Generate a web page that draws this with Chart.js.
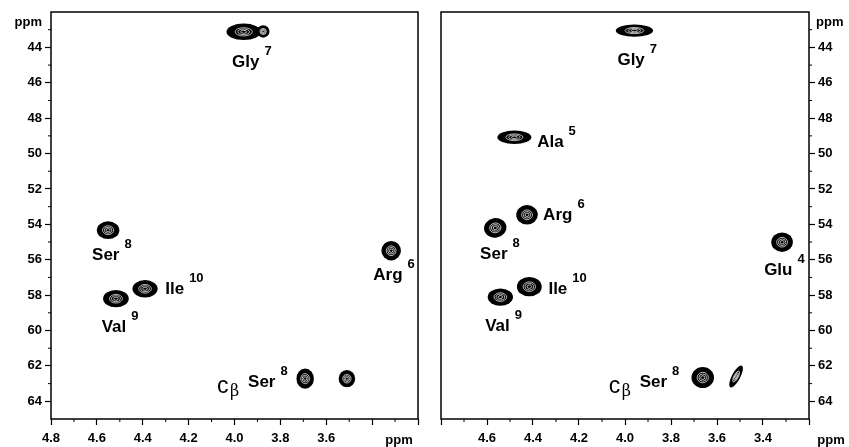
<!DOCTYPE html>
<html>
<head>
<meta charset="utf-8">
<script src="https://cdn.jsdelivr.net/npm/chart.js@4.4.0/dist/chart.umd.min.js"></script>
<style>
  body { margin: 0; background: #fff; }
  #wrap { position: relative; width: 849px; height: 447px; overflow: hidden; }
  canvas { position: absolute; top: 0; }
</style>
</head>
<body>
<div id="wrap">
  <canvas id="left" width="430" height="447" style="left:0;width:430px;height:447px"></canvas>
  <canvas id="right" width="419" height="447" style="left:430px;width:419px;height:447px"></canvas>
</div>
<script>
// axis ranges (ppm), both panels
var xMin = 3.2, xMax = 4.8;
var yMin = 42, yMax = 65;
var leftXTickLabels = ['4.8', '4.6', '4.4', '4.2', '4.0', '3.8', '3.6'];
var rightXTickLabels = ['4.6', '4.4', '4.2', '4.0', '3.8', '3.6', '3.4'];
var yTickLabels = ['44', '46', '48', '50', '52', '54', '56', '58', '60', '62', '64'];

// left panel cross peaks: 1H shift, 13C shift, contour width / height (ppm), tilt (deg)
var leftPeakX = [3.96, 3.875, 4.551, 3.317, 4.39, 4.517, 3.692, 3.51];
var leftPeakY = [43.12, 43.10, 54.33, 55.49, 57.64, 58.20, 62.72, 62.72];
var leftPeakW = [0.150, 0.055, 0.098, 0.085, 0.110, 0.112, 0.076, 0.072];
var leftPeakH = [0.93, 0.70, 1.00, 1.10, 0.98, 0.98, 1.15, 0.98];
var leftPeakRot = [0, 0, 0, 0, 0, 0, 0, 0];

// left panel assignments
var leftLabels = ['Gly', 'Ser', 'Arg', 'Ile', 'Val', 'Ser'];
var leftSups = ['7', '8', '6', '10', '9', '8'];
var leftLabelX = [4.011, 4.621, 3.395, 4.302, 4.579, 4.076];
var leftLabelY = [45.08, 56.03, 57.14, 57.96, 60.10, 63.17];
var leftCbeta = [false, false, false, false, false, true];

// right panel cross peaks
var rightPeakX = [3.959, 4.481, 4.426, 4.564, 3.317, 4.416, 4.542, 3.662, 3.517];
var rightPeakY = [43.05, 49.08, 53.46, 54.20, 55.01, 57.52, 58.11, 62.66, 62.60];
var rightPeakW = [0.162, 0.148, 0.094, 0.098, 0.094, 0.108, 0.110, 0.098, 0.036];
var rightPeakH = [0.70, 0.76, 1.10, 1.10, 1.10, 1.10, 0.98, 1.19, 1.38];
var rightPeakRot = [0, 0, 0, -10, 0, 0, 0, 0, 28];

// right panel assignments
var rightLabels = ['Gly', 'Ala', 'Arg', 'Ser', 'Glu', 'Ile', 'Val', 'Ser'];
var rightSups = ['7', '5', '6', '8', '4', '10', '9', '8'];
var rightLabelX = [4.033, 4.382, 4.356, 4.630, 3.395, 4.333, 4.608, 4.071];
var rightLabelY = [44.99, 49.61, 53.77, 55.98, 56.88, 57.96, 60.00, 63.17];
var rightCbeta = [false, false, false, false, false, false, false, true];

var FONT = "'Liberation Sans', Arial, sans-serif";

function drawPeak(ctx, cx, cy, rx, ry, rot) {
  ctx.save();
  ctx.translate(cx, cy);
  ctx.rotate(rot * Math.PI / 180);
  ctx.fillStyle = '#000';
  ctx.beginPath();
  ctx.ellipse(0, 0, rx, ry, 0, 0, 2 * Math.PI);
  ctx.fill();
  ctx.strokeStyle = '#fff';
  ctx.lineWidth = 0.7;
  [0.5, 0.34, 0.18].forEach(function (f) {
    ctx.beginPath();
    ctx.ellipse(0, 0, rx * f, ry * f, 0, 0, 2 * Math.PI);
    ctx.stroke();
  });
  ctx.restore();
}

function makePlugin(side, p) {
  return {
    id: 'nmr_' + side,
    afterDatasetsDraw: function (chart) {
      var ctx = chart.ctx, xs = chart.scales.x, ys = chart.scales.y, a = chart.chartArea;
      // peaks
      for (var i = 0; i < p.px.length; i++) {
        var cx = xs.getPixelForValue(p.px[i]), cy = ys.getPixelForValue(p.py[i]);
        var rx = Math.abs(xs.getPixelForValue(p.px[i] + p.pw[i] / 2) - cx);
        var ry = Math.abs(ys.getPixelForValue(p.py[i] + p.ph[i] / 2) - cy);
        drawPeak(ctx, cx, cy, rx, ry, p.rot[i]);
      }
      // assignment labels
      ctx.save();
      ctx.fillStyle = '#000';
      ctx.textBaseline = 'alphabetic';
      ctx.textAlign = 'left';
      for (var j = 0; j < p.labels.length; j++) {
        var lx = xs.getPixelForValue(p.lx[j]), ly = ys.getPixelForValue(p.ly[j]);
        if (p.cb[j]) {
          ctx.font = '23px ' + FONT;
          ctx.fillText('c', lx, ly + 6);
          ctx.font = '16px DejaVu Serif, serif';
          ctx.fillText('\u03B2', lx + 13, ly + 9);
          lx += 31;
        }
        ctx.font = 'bold 17px ' + FONT;
        ctx.fillText(p.labels[j], lx, ly);
        var w = ctx.measureText(p.labels[j]).width;
        ctx.font = 'bold 13px ' + FONT;
        ctx.fillText(p.sups[j], lx + w + 5, ly - 12);
      }
      // frame
      ctx.strokeStyle = '#000';
      ctx.lineWidth = 1.5;
      ctx.strokeRect(a.left, a.top, a.right - a.left, a.bottom - a.top);
      // minor ticks
      ctx.lineWidth = 1;
      ctx.beginPath();
      for (var v = 3.3; v < 4.8; v += 0.2) {
        var x = xs.getPixelForValue(v);
        ctx.moveTo(x, a.bottom); ctx.lineTo(x, a.bottom + 3);
      }
      for (var k = 43; k < 65; k += 2) {
        var y = ys.getPixelForValue(k);
        if (side === 'left') { ctx.moveTo(a.left, y); ctx.lineTo(a.left - 3, y); }
        else { ctx.moveTo(a.right, y); ctx.lineTo(a.right + 3, y); }
      }
      ctx.stroke();
      // unit labels
      ctx.font = 'bold 13px ' + FONT;
      ctx.textBaseline = 'middle';
      if (side === 'left') {
        ctx.textAlign = 'right';
        ctx.fillText('ppm', a.left - 9, 22);
        ctx.textAlign = 'center';
        ctx.fillText('ppm', a.right - 19, 440);
      } else {
        ctx.textAlign = 'left';
        ctx.fillText('ppm', a.right + 7, 22);
        ctx.textAlign = 'center';
        ctx.fillText('ppm', a.right + 22, 440);
      }
      ctx.restore();
    }
  };
}

function makeChart(id, side, p, xLabels) {
  var pts = p.px.map(function (v, i) { return { x: v, y: p.py[i] }; });
  return new Chart(document.getElementById(id).getContext('2d'), {
    type: 'scatter',
    data: { datasets: [{ data: pts, pointRadius: 0, pointHoverRadius: 0 }] },
    options: {
      responsive: false,
      animation: false,
      devicePixelRatio: 1,
      layout: { padding: side === 'left' ? { left: 0, right: 12, top: 12, bottom: 0 } : { left: 11, right: 0, top: 12, bottom: 0 } },
      plugins: { legend: { display: false }, tooltip: { enabled: false } },
      scales: {
        x: {
          type: 'linear', reverse: true, min: xMin, max: xMax,
          border: { display: false },
          grid: { drawOnChartArea: false, drawTicks: true, tickLength: 6, tickColor: '#000', tickWidth: 1.2 },
          ticks: {
            stepSize: 0.2, padding: 6, color: '#000', maxRotation: 0, autoSkip: false,
            font: { family: FONT, weight: 'bold', size: 13 },
            callback: function (v) { var s = Number(v).toFixed(1); return xLabels.indexOf(s) >= 0 ? s : ''; }
          },
          afterFit: function (s) { s.height = 28; }
        },
        y: {
          type: 'linear', reverse: true, min: yMin, max: yMax,
          position: side === 'left' ? 'left' : 'right',
          border: { display: false },
          grid: {
            drawOnChartArea: false, drawTicks: true, tickLength: 6, tickWidth: 1.2,
            tickColor: function (c) { return c.tick && c.tick.value < 43 ? 'rgba(0,0,0,0)' : '#000'; }
          },
          ticks: {
            stepSize: 2, includeBounds: false, padding: 3, color: '#000',
            font: { family: FONT, weight: 'bold', size: 13 },
            callback: function (v) { var s = String(Math.round(v)); return yTickLabels.indexOf(s) >= 0 ? s : ''; }
          },
          afterFit: function (s) { s.width = side === 'left' ? 51 : 40; }
        }
      }
    },
    plugins: [makePlugin(side, p)]
  });
}

makeChart('left', 'left', {
  px: leftPeakX, py: leftPeakY, pw: leftPeakW, ph: leftPeakH, rot: leftPeakRot,
  labels: leftLabels, sups: leftSups, lx: leftLabelX, ly: leftLabelY, cb: leftCbeta
}, leftXTickLabels);

makeChart('right', 'right', {
  px: rightPeakX, py: rightPeakY, pw: rightPeakW, ph: rightPeakH, rot: rightPeakRot,
  labels: rightLabels, sups: rightSups, lx: rightLabelX, ly: rightLabelY, cb: rightCbeta
}, rightXTickLabels);
</script>
</body>
</html>
